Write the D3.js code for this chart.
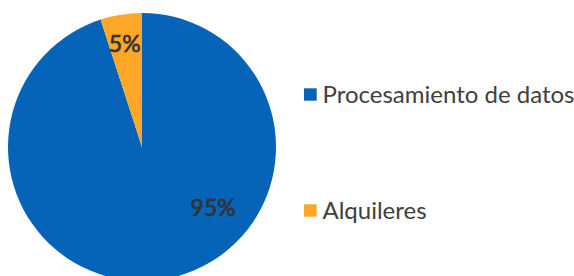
<!DOCTYPE html>
<html><head><meta charset="utf-8">
<script src="https://cdn.jsdelivr.net/npm/d3@7"></script>
<style>html,body{margin:0;padding:0;background:#fff;overflow:hidden}</style>
</head><body>
<svg id="c" width="574" height="276"></svg>
<script>
const categories = ["Procesamiento de datos", "Alquileres"];
const values = [95, 5];
const labels = ["95%", "5%"];
const colors = ["#0564B7", "#FFA726"];

const svg = d3.select("#c");
const cx = 142, cy = 147, r = 134;
const g = svg.append("g").attr("transform", `translate(${cx},${cy})`);
const pie = d3.pie().sort(null).value(d => d)(values);
const arc = d3.arc().innerRadius(0).outerRadius(r);
g.selectAll("path").data(pie).join("path")
  .attr("d", arc).attr("fill", (d, i) => colors[i]);

// label placement (angle from top clockwise, radius fraction)
const labelPos = [[130.7, 0.70], [350.5, 0.78]];
g.selectAll("text.lbl").data(pie).join("text").attr("class", "lbl")
  .attr("x", (d, i) => Math.sin(labelPos[i][0] * Math.PI / 180) * r * labelPos[i][1])
  .attr("y", (d, i) => -Math.cos(labelPos[i][0] * Math.PI / 180) * r * labelPos[i][1])
  .attr("text-anchor", "middle").attr("dy", "0.36em")
  .attr("font-family", "Lato").attr("font-weight", "normal").attr("font-size", 23)
  .attr("fill", "#333").attr("stroke", "#333").attr("stroke-width", 0.7)
  .text((d, i) => labels[i]);

const legY = [94.5, 210.5];
const leg = svg.selectAll("g.leg").data(categories).join("g").attr("class", "leg")
  .attr("transform", (d, i) => `translate(304,${legY[i]})`);
leg.append("rect").attr("x", 0).attr("y", -6.2).attr("width", 12.7).attr("height", 12.4)
  .attr("fill", (d, i) => colors[i]);
leg.append("text").attr("x", 18.5).attr("y", 8)
  .attr("font-family", "Lato").attr("font-size", 24).attr("fill", "#404040").text(d => d);
</script>
</body></html>
